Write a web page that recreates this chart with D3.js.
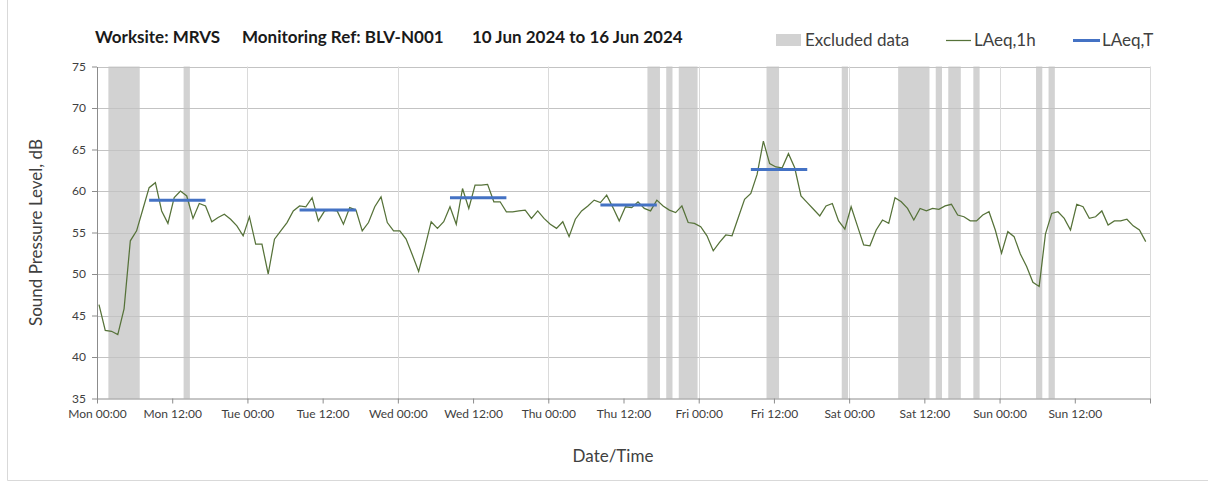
<!DOCTYPE html>
<html>
<head>
<meta charset="utf-8">
<script src="https://cdn.jsdelivr.net/npm/d3@7"></script>
<style>
  body { margin: 0; background: #fff; }
  svg { font-family: Lato, "Open Sans", sans-serif; }
</style>
</head>
<body>
<div id="vis"></div>
<script>
var width  = 1208;
var height = 492;

// hourly LAeq,1h values, Mon 10 Jun 00:00 onwards (168 h)
var laeq1h = [
  46.3, 43.2, 43.1, 42.7, 45.8, 54.0, 55.2, 57.8, 60.4, 61.0, 57.6, 56.1,
  59.2, 60.0, 59.4, 56.7, 58.5, 58.2, 56.3, 56.8, 57.2, 56.6, 55.8, 54.6,
  56.9, 53.6, 53.6, 50.0, 54.2, 55.2, 56.2, 57.6, 58.2, 58.1, 59.2, 56.4,
  57.6, 57.7, 57.6, 56.0, 58.0, 57.7, 55.2, 56.2, 58.1, 59.3, 56.2, 55.2,
  55.2, 54.2, 52.3, 50.3, 53.2, 56.3, 55.5, 56.3, 58.1, 56.0, 60.3, 57.9,
  60.7, 60.7, 60.8, 58.7, 58.7, 57.5, 57.5, 57.6, 57.7, 56.7, 57.6, 56.7,
  56.0, 55.5, 56.3, 54.5, 56.6, 57.6, 58.2, 58.9, 58.6, 59.5, 58.0, 56.4,
  58.1, 58.0, 58.7, 57.9, 57.6, 58.9, 58.2, 57.7, 57.4, 58.2, 56.2, 56.1,
  55.7, 54.6, 52.8, 53.8, 54.7, 54.6, 56.8, 59.0, 59.7, 62.0, 66.0, 63.3,
  62.9, 62.8, 64.5, 62.8, 59.4, 58.6, 57.8, 57.0, 58.2, 58.5, 56.4, 55.4,
  58.1, 55.8, 53.5, 53.4, 55.3, 56.5, 56.1, 59.2, 58.7, 57.9, 56.5, 57.9,
  57.6, 57.9, 57.8, 58.2, 58.4, 57.1, 56.9, 56.4, 56.4, 57.1, 57.5, 55.3,
  52.5, 55.1, 54.5, 52.4, 50.9, 49.0, 48.5, 54.8, 57.3, 57.5, 56.7, 55.3,
  58.4, 58.1, 56.7, 56.9, 57.6, 55.9, 56.4, 56.4, 56.6, 55.8, 55.3, 53.9
];

// hours (index into laeq1h) flagged as excluded
var excludedHours = [2, 3, 4, 5, 6, 14, 88, 89, 91, 93, 94, 95, 107, 108, 119,
  128, 129, 130, 131, 132, 134, 136, 137, 140, 150, 152];

// daytime LAeq,T periods: first and last hour index, level
var periodFrom  = [8, 32, 56, 80, 104];
var periodTo    = [17, 41, 65, 89, 113];
var periodLevel = [58.9, 57.7, 59.2, 58.3, 62.6];

var yTicks = [35, 40, 45, 50, 55, 60, 65, 70, 75];

var startTime = new Date(2024, 5, 10, 0, 0);
var endTime   = new Date(2024, 5, 17, 0, 0);
var sampleOffsetMin = 19;   // logger stamps each hour ~19 min past

var hourMs = 3600 * 1000;
function timeOf(h) { return new Date(startTime.getTime() + h * hourMs + sampleOffsetMin * 60000); }

var plotLeft = 97, plotRight = 1150, plotTop = 66.5, plotBottom = 398.5;

var x = d3.scaleTime().domain([startTime, endTime]).range([plotLeft, plotRight]);
var y = d3.scaleLinear().domain([35, 75]).range([plotBottom, plotTop]);

var svg = d3.select("#vis").append("svg")
  .attr("width", width)
  .attr("height", height);

// outer frame
svg.append("path")
  .attr("d", "M7.5,0V480.5H1208")
  .attr("fill", "none")
  .attr("stroke", "#d9d9d9");

// excluded bands (merge consecutive hours)
var runs = [];
excludedHours.forEach(function(h) {
  var last = runs[runs.length - 1];
  if (last && last[1] === h - 1) last[1] = h;
  else runs.push([h, h]);
});
svg.append("g").selectAll("rect")
  .data(runs)
  .enter().append("rect")
  .attr("x", function(d) { return x(timeOf(d[0] - 0.5)); })
  .attr("width", function(d) { return x(timeOf(d[1] + 0.5)) - x(timeOf(d[0] - 0.5)); })
  .attr("y", plotTop)
  .attr("height", plotBottom - plotTop)
  .attr("fill", "#d2d2d2");

// gridlines
svg.append("g").selectAll("line")
  .data(yTicks.slice(1))
  .enter().append("line")
  .attr("x1", plotLeft).attr("x2", plotRight)
  .attr("y1", function(d) { return Math.round(y(d)) + 0.5; })
  .attr("y2", function(d) { return Math.round(y(d)) + 0.5; })
  .attr("stroke", "#c3c3c3");

var days = d3.timeDay.range(d3.timeDay.offset(startTime, 1), d3.timeDay.offset(endTime, 1));
svg.append("g").selectAll("line")
  .data(days)
  .enter().append("line")
  .attr("x1", function(d) { return Math.round(x(d)) + 0.5; })
  .attr("x2", function(d) { return Math.round(x(d)) + 0.5; })
  .attr("y1", plotTop).attr("y2", plotBottom)
  .attr("stroke", "#dadada");

// axes
var xAxis = d3.axisBottom(x)
  .tickValues(d3.timeHour.every(12).range(startTime, d3.timeHour.offset(endTime, 1)))
  .tickFormat(function(d) { return +d === +endTime ? "" : d3.timeFormat("%a %H:%M")(d); })
  .tickSizeInner(5).tickSizeOuter(0).tickPadding(6);

var gx = svg.append("g")
  .attr("transform", "translate(0," + plotBottom + ")")
  .call(xAxis);

var yAxis = d3.axisLeft(y).tickValues(yTicks).tickSizeInner(5).tickSizeOuter(0).tickPadding(6);
var gy = svg.append("g")
  .attr("transform", "translate(" + plotLeft + ",0)")
  .call(yAxis);

[gx, gy].forEach(function(g) {
  g.select(".domain").attr("stroke", "#8c8c8c");
  g.selectAll(".tick line").attr("stroke", "#8c8c8c");
  g.selectAll(".tick text")
    .attr("fill", "#404040")
    .style("font-size", "12px")
    .style("font-family", "Lato, sans-serif");
});

// LAeq,1h line
var line = d3.line()
  .x(function(d, i) { return x(timeOf(i)); })
  .y(function(d) { return y(d); });

svg.append("path")
  .datum(laeq1h)
  .attr("d", line)
  .attr("fill", "none")
  .attr("stroke", "#567239")
  .attr("stroke-width", 1.25);

// LAeq,T segments
svg.append("g").selectAll("line")
  .data(periodLevel)
  .enter().append("line")
  .attr("x1", function(d, i) { return x(timeOf(periodFrom[i])); })
  .attr("x2", function(d, i) { return x(timeOf(periodTo[i])); })
  .attr("y1", function(d) { return y(d); })
  .attr("y2", function(d) { return y(d); })
  .attr("stroke", "#4472c4")
  .attr("stroke-width", 3);

// title
var title = svg.append("g")
  .style("font-weight", "bold")
  .style("font-size", "17px")
  .attr("fill", "#1a1a1a");
title.append("text").attr("x", 95).attr("y", 43).text("Worksite: MRVS");
title.append("text").attr("x", 242).attr("y", 43).text("Monitoring Ref: BLV-N001");
title.append("text").attr("x", 472).attr("y", 43).text("10 Jun 2024 to 16 Jun 2024");

// legend
var legend = svg.append("g").style("font-size", "17px").attr("fill", "#404040");
legend.append("rect").attr("x", 776).attr("y", 34).attr("width", 25).attr("height", 12).attr("fill", "#d2d2d2");
legend.append("text").attr("x", 805).attr("y", 46).text("Excluded data");
legend.append("line").attr("x1", 946).attr("x2", 971).attr("y1", 40.5).attr("y2", 40.5)
  .attr("stroke", "#567239").attr("stroke-width", 1.25);
legend.append("text").attr("x", 974).attr("y", 46).text("LAeq,1h");
legend.append("line").attr("x1", 1073).attr("x2", 1100).attr("y1", 40.5).attr("y2", 40.5)
  .attr("stroke", "#4472c4").attr("stroke-width", 3);
legend.append("text").attr("x", 1102).attr("y", 46).text("LAeq,T");

// axis titles
svg.append("text")
  .attr("transform", "translate(42," + ((plotTop + plotBottom) / 2) + ") rotate(-90)")
  .attr("text-anchor", "middle")
  .style("font-size", "17px")
  .attr("fill", "#404040")
  .text("Sound Pressure Level, dB");

svg.append("text")
  .attr("x", 613).attr("y", 462)
  .attr("text-anchor", "middle")
  .style("font-size", "17px")
  .attr("fill", "#404040")
  .text("Date/Time");
</script>
</body>
</html>
